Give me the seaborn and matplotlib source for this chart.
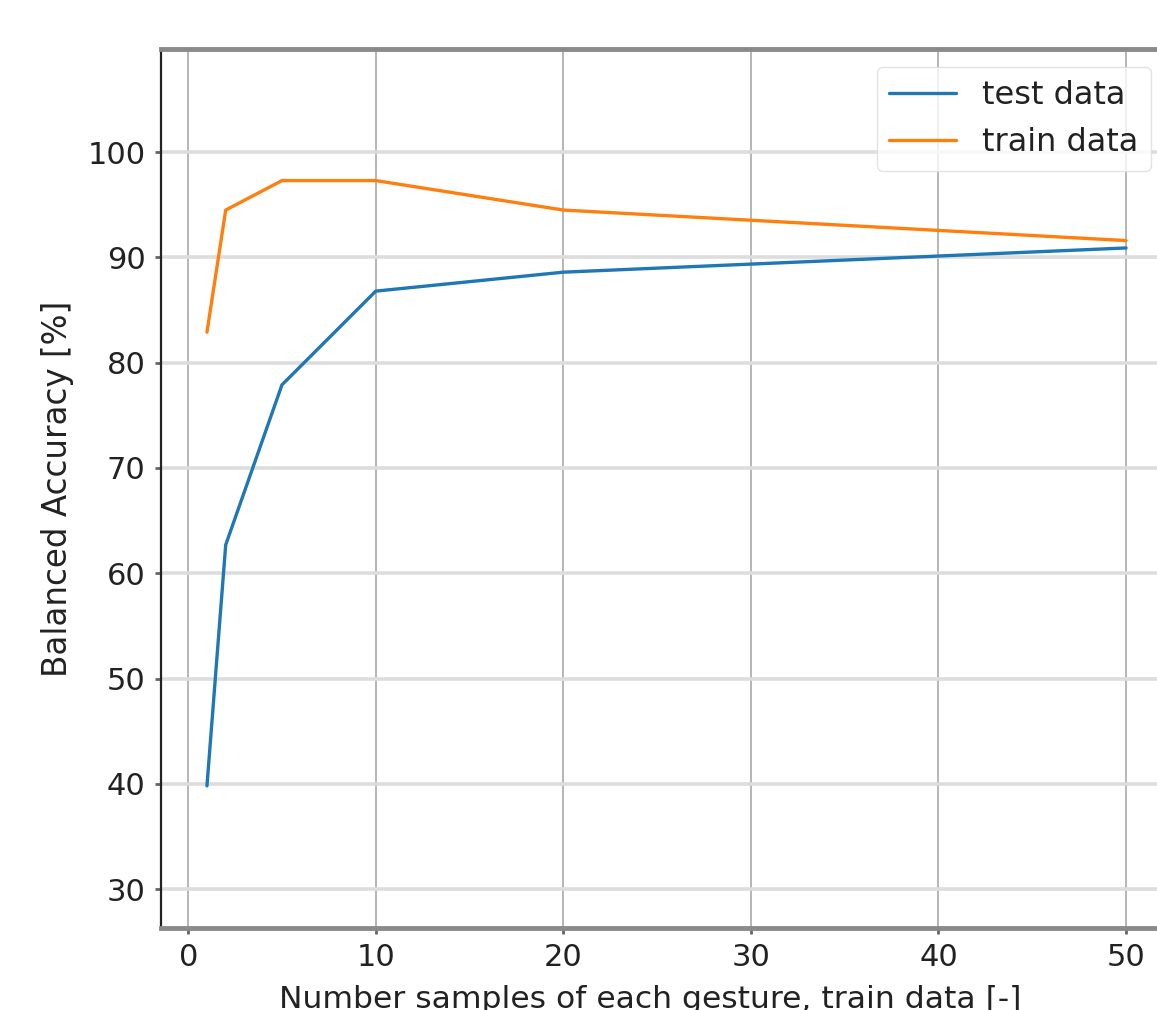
import pandas as pd
import matplotlib
matplotlib.use('Agg')
import matplotlib.pyplot as plt
import seaborn as sns

# dados
amostras = [1, 2, 5, 10, 20, 50]
acc_test = [39.8, 62.7, 77.9, 86.8, 88.6, 90.9]
acc_train = [82.9, 94.5, 97.3, 97.3, 94.5, 91.6]
series = ['test data', 'train data']

df = pd.DataFrame({
    'n': amostras * 2,
    'acc': acc_test + acc_train,
    'dados': [series[0]] * len(amostras) + [series[1]] * len(amostras),
})

sns.set_style('white')
plt.rcParams['font.family'] = ['DejaVu Sans']

fig = plt.figure(figsize=(11.57, 10.10), dpi=100)
ax = fig.add_axes([161 / 1157, 1 - 928 / 1010, (1172 - 161) / 1157, (928 - 49) / 1010])

sns.lineplot(data=df, x='n', y='acc', hue='dados', palette=['#1f77b4', '#ff7f0e'],
             linewidth=2.4, ax=ax)

ax.set_xlim(-1.45, 52.45)
ax.set_ylim(26.3, 109.8)
ax.set_xticks([0, 10, 20, 30, 40, 50])
ax.set_yticks([30, 40, 50, 60, 70, 80, 90, 100])

# grade: vertical mais escura, horizontal clara e grossa
ax.grid(True, axis='x', color='#b0b0b0', linewidth=1.3)
ax.grid(True, axis='y', color='#dddddd', linewidth=2.6)
ax.set_axisbelow(True)

ax.spines['left'].set_color('#222222')
ax.spines['left'].set_linewidth(1.6)
for s in ['top', 'bottom']:
    ax.spines[s].set_color('#8a8a8a')
    ax.spines[s].set_linewidth(3.5)
ax.spines['right'].set_visible(False)

ax.tick_params(axis='both', labelsize=22, colors='#666666', length=4, width=2,
               left=True, bottom=True, pad=7)
for lab in ax.get_xticklabels() + ax.get_yticklabels():
    lab.set_color('#222222')

ax.set_xlabel('Number samples of each gesture, train data [-]', fontsize=22.6, color='#222222', labelpad=9)
ax.xaxis.set_label_coords((650 - 161) / (1172 - 161), -0.065)
ax.set_ylabel('Balanced Accuracy [%]', fontsize=23.5, color='#222222', labelpad=10)

leg = ax.legend(fontsize=23, loc='upper right', bbox_to_anchor=(1151 / 1157, 1 - 67 / 1010),
                bbox_transform=fig.transFigure, frameon=True, fancybox=True,
                borderaxespad=0, handlelength=2.1, framealpha=0.8)
leg.get_frame().set_edgecolor('#dddddd')
for t in leg.get_texts():
    t.set_color('#222222')

fig.savefig('out.png', dpi=100)
